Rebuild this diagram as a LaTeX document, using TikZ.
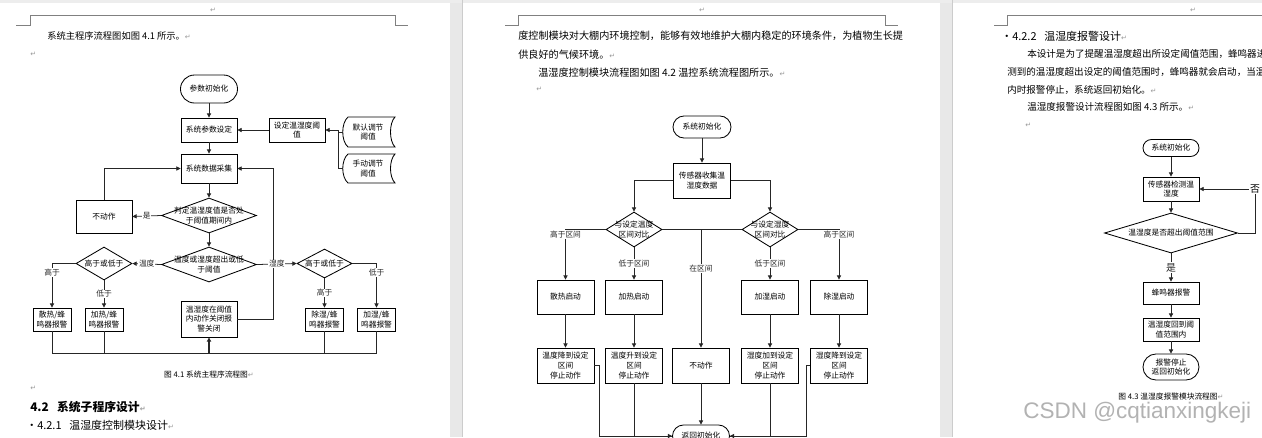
\documentclass[tikz,border=0pt]{standalone}
\usepackage{fontspec}
\setmainfont{Noto Sans CJK SC}
\newfontfamily\dejavu{DejaVu Sans}
\newfontfamily\wmfont{Liberation Sans}
\usetikzlibrary{arrows.meta,shapes.geometric,shapes.misc}
\newcommand\flowfont{\fontsize{5.5}{7}\selectfont}
\newcommand\retmark{{\dejavu\color{black!40}\fontsize{5}{5}\selectfont ↵}}
\begin{document}
\begin{tikzpicture}[x=0.025cm,y=-0.025cm,
  box/.style={draw,line width=0.6pt,minimum width=1.4cm,minimum height=0.6cm,inner sep=0pt,align=center,font=\flowfont},
  term/.style={box,rounded rectangle},
  dia/.style={draw,line width=0.6pt,diamond,inner sep=0pt},
  dtxt/.style={inner sep=0pt,align=center,font=\flowfont},
  lbl/.style={fill=white,inner sep=0.6pt,font=\flowfont},
  wire/.style={line width=0.55pt,black!85},
  arr/.style={wire,-{Triangle[length=3pt,width=3pt]}},
  body/.style={anchor=west,inner sep=0pt},
  figcap/.style={inner sep=0pt,font=\fontsize{5.5}{6}\selectfont}]
  \useasboundingbox (0,0) rectangle (1262,437);
  \clip (0,0) rectangle (1262,437);
  \fill[white] (0,0) rectangle (1262,437);
  \fill[black!9] (450,0) rectangle (462,437);
  \fill[black!9] (940,0) rectangle (952,437);
  \fill[black!7] (0,0) rectangle (1262,3);
  \draw[black!20] (462,0) -- (462,437) (952,0) -- (952,437);
  \draw[black!50,line width=0.5pt] (16,25) -- (30,25) -- (30,15) -- (395,15) -- (395,25) -- (408,25);
  \draw[black!50,line width=0.5pt] (505,25) -- (518,25) -- (518,15) -- (885,15) -- (885,25) -- (898,25);
  \draw[black!50,line width=0.5pt] (994,25) -- (1007,25) -- (1007,15) -- (1262,15);

  \node[inner sep=0pt] (m1) at (213,10) {\retmark};
  \node[inner sep=0pt] (m2) at (702,10) {\retmark};
  \node[inner sep=0pt] (m3) at (1193,10) {\retmark};
  \node[body,font=\fontsize{6.6}{7}\selectfont] (t11) at (47,36) {系统主程序流程图如图 4.1 所示。\retmark};
  \node[body] (t12) at (30,54) {\retmark};
  \node[figcap] (cap1) at (209,375) {图 4.1 系统主程序流程图\retmark};
  \node[body] (t13) at (30,388) {\retmark};
  \node[body,font=\bfseries\fontsize{8.4}{9}\selectfont] (h42) at (30,407) {4.2\hspace{0.7em}系统子程序设计\retmark};
  \node[body,font=\fontsize{7.8}{8}\selectfont] (h421) at (26,425) {·4.2.1\hspace{0.7em}温湿度控制模块设计\retmark};
  \node[body,font=\fontsize{7.2}{8}\selectfont] (t21) at (518,36) {度控制模块对大棚内环境控制，能够有效地维护大棚内稳定的环境条件，为植物生长提};
  \node[body,font=\fontsize{7.2}{8}\selectfont] (t22) at (518,55) {供良好的气候环境。\retmark};
  \node[body,font=\fontsize{7.2}{8}\selectfont] (t23) at (538,73) {温湿度控制模块流程图如图 4.2 温控系统流程图所示。\retmark};
  \node[body] (t24) at (536,89) {\retmark};
  \node[body,font=\fontsize{7.8}{8}\selectfont] (h422) at (1001,36) {·4.2.2\hspace{0.7em}温湿度报警设计\retmark};
  \node[body,font=\fontsize{6.8}{8}\selectfont] (t31) at (1027,54) {本设计是为了提醒温湿度超出所设定阈值范围，蜂鸣器进行报警};
  \node[body,font=\fontsize{6.8}{8}\selectfont] (t32) at (1007,72) {测到的温湿度超出设定的阈值范围时，蜂鸣器就会启动，当温湿度};
  \node[body,font=\fontsize{6.8}{8}\selectfont] (t33) at (1007,90) {内时报警停止，系统返回初始化。\retmark};
  \node[body,font=\fontsize{6.8}{8}\selectfont] (t34) at (1027,107) {温湿度报警设计流程图如图 4.3 所示。\retmark};
  \node[body] (t35) at (1025,125) {\retmark};
  \node[figcap] (cap3) at (1171,397) {图 4.3 温湿度报警模块流程图\retmark};

  \node[term,minimum width=1.425cm,minimum height=0.7cm] (init1) at (209,89) {参数初始化};
  \node[box] (set1) at (209,130) {系统参数设定};
  \node[box] (thr) at (297,130) {设定温湿度阈\\值};
  \node[box,draw=none,minimum width=1.25cm,minimum height=0.75cm] (dflt) at (368,132) {默认调节\\阈值};
  \node[box,draw=none,minimum width=1.25cm,minimum height=0.725cm] (manu) at (368,168.5) {手动调节\\阈值};
  \draw[line width=0.6pt] (348,117) -- (395,117) .. controls (389,123) and (389,141) .. (395,147) -- (348,147) .. controls (341,141) and (341,123) .. (348,117);
  \draw[line width=0.6pt] (348,154) -- (395,154) .. controls (389,160) and (389,177) .. (395,183) -- (348,183) .. controls (341,177) and (341,160) .. (348,154);
  \node[box,minimum height=0.725cm] (coll) at (209,168.5) {系统数据采集};
  \node[dia,minimum width=2.375cm,minimum height=0.875cm,label={[dtxt]center:{判定温湿度值是否处\\于阈值期间内}}] (judge) at (209,215.5) {};
  \node[box,minimum height=0.825cm] (nop1) at (104,216.5) {不动作};
  \node[dia,minimum width=2.375cm,minimum height=0.875cm,label={[dtxt]center:{温度或湿度超出或低\\于阈值}}] (exc) at (209,264.5) {};
  \node[dia,minimum width=1.4cm,minimum height=0.825cm,label={[dtxt]center:高于或低于}] (hlL) at (104,263.5) {};
  \node[dia,minimum width=1.375cm,minimum height=0.725cm,label={[dtxt]center:高于或低于}] (hlR) at (324.5,263.5) {};
  \node[box,minimum width=0.95cm,minimum height=0.575cm] (a1) at (52,319.5) {散热/蜂\\鸣器报警};
  \node[box,minimum width=0.95cm,minimum height=0.575cm] (a2) at (104,319.5) {加热/蜂\\鸣器报警};
  \node[box,minimum width=0.95cm,minimum height=0.575cm] (a3) at (324.5,319.5) {除湿/蜂\\鸣器报警};
  \node[box,minimum width=0.95cm,minimum height=0.575cm] (a4) at (376.5,319.5) {加湿/蜂\\鸣器报警};
  \node[box,minimum height=0.9cm] (off) at (209,319) {温湿度在阈值\\内动作关闭报\\警关闭};
  \coordinate (jn) at (338,132);
  \coordinate (rt) at (273,168.5);
  \coordinate (bl) at (52,353);
  \coordinate (br) at (376.5,353);

  \node[term,minimum width=1.45cm,minimum height=0.55cm] (init2) at (702,127) {系统初始化};
  \node[box,minimum width=1.425cm,minimum height=0.875cm] (sens) at (702,180.5) {传感器收集温\\湿度数据};
  \node[dia,minimum width=1.4cm,minimum height=0.875cm,label={[dtxt]center:{与设定温度\\区间对比}}] (cmpT) at (634,229.5) {};
  \node[dia,minimum width=1.4cm,minimum height=0.875cm,label={[dtxt]center:{与设定湿度\\区间对比}}] (cmpH) at (770,229.5) {};
  \node[box,minimum width=1.425cm,minimum height=0.85cm] (b1) at (565.5,297) {散热启动};
  \node[box,minimum width=1.425cm,minimum height=0.85cm] (b2) at (634,297) {加热启动};
  \node[box,minimum width=1.425cm,minimum height=0.85cm] (b3) at (770,297) {加湿启动};
  \node[box,minimum width=1.425cm,minimum height=0.85cm] (b4) at (839,297) {除湿启动};
  \node[box,minimum width=1.425cm,minimum height=0.875cm] (c1) at (565.5,365.5) {温度降到设定\\区间\\停止动作};
  \node[box,minimum width=1.425cm,minimum height=0.875cm] (c2) at (634,365.5) {温度升到设定\\区间\\停止动作};
  \node[box,minimum width=1.425cm,minimum height=0.875cm] (c0) at (701,365.5) {不动作};
  \node[box,minimum width=1.425cm,minimum height=0.875cm] (c3) at (770,365.5) {湿度加到设定\\区间\\停止动作};
  \node[box,minimum width=1.425cm,minimum height=0.875cm] (c4) at (839,365.5) {湿度降到设定\\区间\\停止动作};
  \node[term,minimum width=1.425cm,minimum height=0.55cm] (ret) at (701,436) {返回初始化};

  \node[term,minimum width=1.4cm,minimum height=0.425cm] (init3) at (1171,148) {系统初始化};
  \node[box] (det) at (1171,189) {传感器检测温\\湿度};
  \node[dia,minimum width=3.325cm,minimum height=1cm,label={[dtxt]center:温湿度是否超出阈值范围}] (chk) at (1171,233) {};
  \node[box,minimum height=0.55cm] (buz) at (1171,293) {蜂鸣器报警};
  \node[box,minimum height=0.575cm] (back) at (1171,329.5) {温湿度回到阈\\值范围内};
  \node[term,minimum width=1.4cm,minimum height=0.65cm] (stop) at (1171,367) {报警停止\\返回初始化};
  \coordinate (no) at (1255,189);

  \node[body,font=\wmfont\fontsize{16}{16}\selectfont,text=black!30] (wm) at (1023,413) {CSDN @cqtianxingkeji};

  \begin{scope}[arr]
    \draw (init1.south) -- (set1.north);
    \draw (thr.west) -- (set1.east);
    \draw[-] (manu.west) -| (jn);
    \draw (dflt.west) -- (jn) |- (thr.east);
    \draw (set1.south) -- (coll.north);
    \draw (coll.south) -- (judge.north);
    \draw (judge.west) -- node[lbl]{是} (nop1.east);
    \draw (nop1.north) |- (coll.west);
    \draw (judge.south) -- (exc.north);
    \draw (off.east) -| (rt) -- (coll.east);
    \draw (exc.west) -- node[lbl]{温度} (hlL.east);
    \draw (exc.east) -- node[lbl]{湿度} (hlR.west);
    \draw (hlL.west) -| node[lbl,pos=0.6]{高于} (a1.north);
    \draw (hlL.south) -- node[lbl]{低于} (a2.north);
    \draw (hlR.south) -- node[lbl]{高于} (a3.north);
    \draw (hlR.east) -| node[lbl,pos=0.6]{低于} (a4.north);
    \draw[-] (a1.south) -- (bl) -- (br) -- (a4.south);
    \draw[-] (a2.south) -- (a2.south |- bl);
    \draw[-] (a3.south) -- (a3.south |- bl);
    \draw[line width=1.2pt] (off.south |- bl) -- (off.south);

    \draw (init2.south) -- (sens.north);
    \draw (sens.west) -| (cmpT.north);
    \draw (sens.east) -| (cmpH.north);
    \draw[-] (cmpT.east) -- (cmpH.west);
    \draw (c0.north |- cmpT.east) -- node[lbl,pos=0.33]{在区间} (c0.north);
    \draw (cmpT.west) -| node[lbl,pos=0.55]{高于区间} (b1.north);
    \draw (cmpT.south) -- node[lbl]{低于区间} (b2.north);
    \draw (cmpH.south) -- node[lbl]{低于区间} (b3.north);
    \draw (cmpH.east) -| node[lbl,pos=0.55]{高于区间} (b4.north);
    \draw (b1.south) -- (c1.north);
    \draw (b2.south) -- (c2.north);
    \draw (b3.south) -- (c3.north);
    \draw (b4.south) -- (c4.north);
    \draw (c0.south) -- (ret.north);
    \draw (c1.east) -- ++(5,0) |- (ret.west);
    \draw[-] (c2.south) |- (ret.west);
    \draw (c4.west) -- ++(-4,0) |- (ret.east);
    \draw[-] (c3.south) |- (ret.east);

    \draw (init3.south) -- (det.north);
    \draw (det.south) -- (chk.north);
    \draw (chk.south) -- node[lbl,font=\fontsize{7}{7}\selectfont]{是} (buz.north);
    \draw (chk.east) -| (no) -- (det.east);
    \draw (buz.south) -- (back.north);
    \draw (back.south) -- (stop.north);
  \end{scope}
  \node[lbl,font=\fontsize{7}{7}\selectfont] (nolbl) at (no) {否};
\end{tikzpicture}
\end{document}
